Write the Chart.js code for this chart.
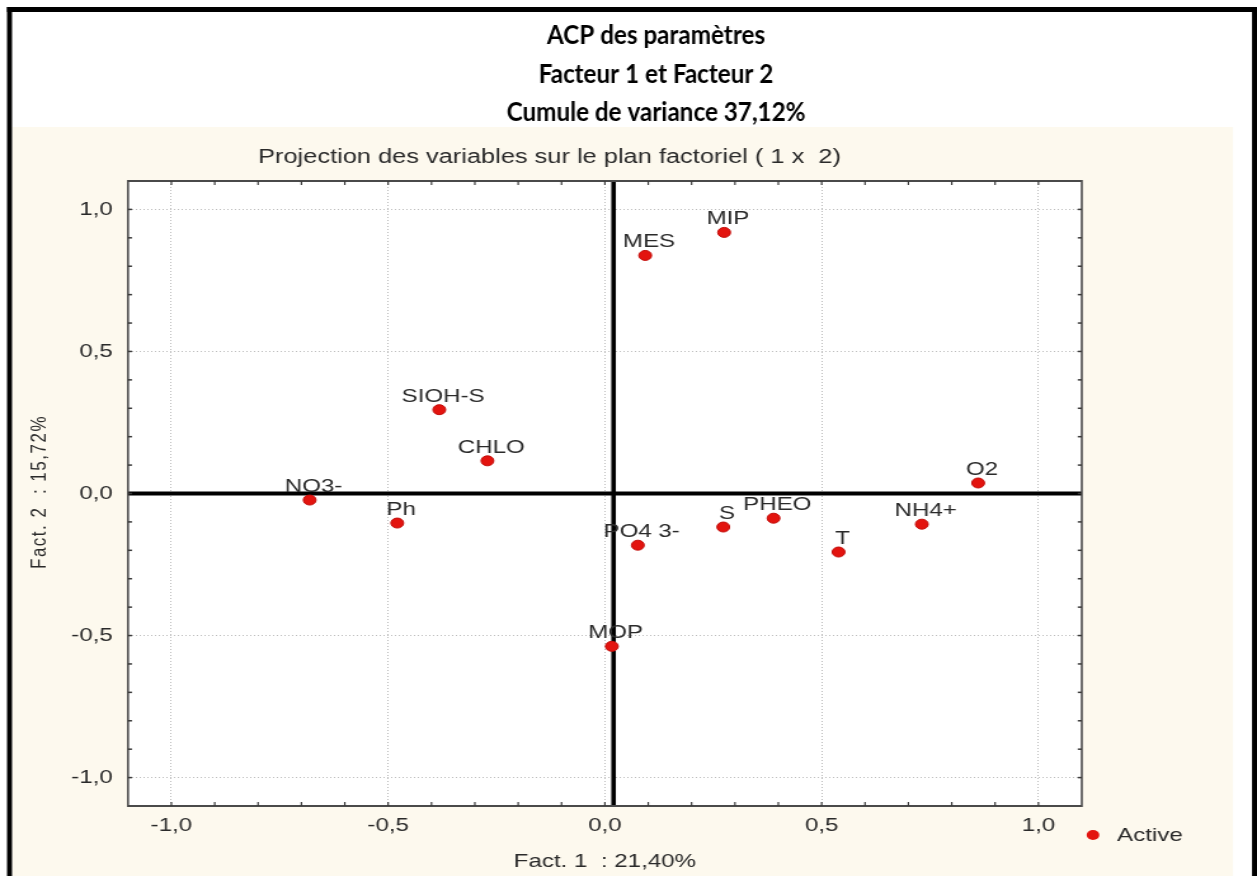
<!DOCTYPE html>
<html>
<head>
<meta charset="utf-8">
<script src="https://cdn.jsdelivr.net/npm/chart.js@4/dist/chart.umd.min.js"></script>
<style>
  html, body { margin: 0; padding: 0; background: #fff; overflow: hidden; }
  canvas { display: block; }
</style>
</head>
<body>
<!-- drawn on a narrower canvas and widened by CSS, like the exported figure -->
<canvas id="acp" width="990" height="876" style="width:1257px;height:876px"></canvas>
<script>
// variables projected on the factorial plane (1 x 2)
const variables = ['MES', 'MIP', 'SIOH-S', 'CHLO', 'NO3-', 'Ph', 'PO4 3-', 'S', 'PHEO', 'T', 'NH4+', 'O2', 'MOP'];
const fact1 = [0.093, 0.275, -0.382, -0.271, -0.681, -0.479, 0.076, 0.273, 0.389, 0.539, 0.731, 0.861, 0.016];
const fact2 = [0.838, 0.919, 0.295, 0.115, -0.023, -0.104, -0.182, -0.118, -0.087, -0.206, -0.108, 0.037, -0.538];

// labelled ticks on both axes
const axisTicks = [-1.0, -0.5, 0.0, 0.5, 1.0];
const axisRange = [-1.1, 1.1];
const minorStep = 0.1;
// where the two heavy origin lines cross
const originLine = { x: 0.02, y: 0.0 };

const titleLines = ['ACP des paramètres', 'Facteur 1 et Facteur 2', 'Cumule de variance 37,12%'];
const subtitle = 'Projection des variables sur le plan factoriel ( 1 x  2)';
const xTitle = 'Fact. 1  : 21,40%';
const yTitle = 'Fact. 2  : 15,72%';
const seriesName = 'Active';

// horizontal canvas units per displayed pixel
const SX = 990 / 1257;
const hx = v => v * SX;

const SMALL_FONT = '"Liberation Sans", Arial, Helvetica, sans-serif';
const TITLE_FONT = 'Lato, "Open Sans", "Liberation Sans", sans-serif';
const DOT = '#e3140f';
const TEXT = '#2a2a2a';

const isLabelled = v => axisTicks.some(t => Math.abs(t - v) < 1e-6);
const fmt = v => (Math.abs(v) < 1e-9 ? 0 : v).toFixed(1).replace('.', ',');

const decor = {
  id: 'decor',
  beforeDraw(chart) {
    const c = chart.ctx, W = chart.width, H = chart.height, a = chart.chartArea;
    c.save();
    c.fillStyle = '#ffffff';
    c.fillRect(0, 0, W, H);
    // cream panel behind the plot
    c.fillStyle = '#fdf9ee';
    c.fillRect(hx(12), 127, hx(1233) - hx(12), H - 127);
    c.fillStyle = '#ffffff';
    c.fillRect(a.left, a.top, a.right - a.left, a.bottom - a.top);
    // heavy outer frame
    c.fillStyle = '#000';
    c.fillRect(hx(7), 7, W - hx(7), 5);
    c.fillRect(hx(7), 7, hx(12) - hx(7), H - 7);
    c.fillRect(hx(1252), 7, W - hx(1252), H - 7);

    // three-line bold heading, set in one common condensed width
    c.fillStyle = '#000';
    c.textAlign = 'center';
    c.textBaseline = 'alphabetic';
    c.font = 'bold 26px ' + TITLE_FONT;
    const blockWidth = hx(244 + 223 + 285);
    const measured = titleLines.reduce((s, t) => s + c.measureText(t).width, 0);
    const k = blockWidth / measured;
    const ys = [44, 83, 121];
    titleLines.forEach((t, i) => {
      c.save();
      c.translate(hx(656), ys[i]);
      c.scale(k, 1);
      c.fillText(t, 0, 0);
      c.restore();
    });

    // subtitle
    c.fillStyle = TEXT;
    c.textAlign = 'left';
    c.textBaseline = 'middle';
    c.font = '20px ' + SMALL_FONT;
    c.fillText(subtitle, hx(258), 157);

    // vertical axis title
    c.save();
    c.translate(hx(40), 492);
    c.rotate(-Math.PI / 2);
    c.textAlign = 'center';
    c.font = '17px ' + SMALL_FONT;
    if ('letterSpacing' in c) c.letterSpacing = '1.5px';
    c.fillText(yTitle, 0, 0);
    c.restore();

    // legend
    const ds = chart.data.datasets[0];
    c.fillStyle = ds.backgroundColor;
    c.beginPath();
    c.arc(hx(1093), 835, 5, 0, Math.PI * 2);
    c.fill();
    c.fillStyle = TEXT;
    c.font = '19px ' + SMALL_FONT;
    c.textAlign = 'left';
    c.fillText(ds.label, hx(1117), 836);
    c.restore();
  },
  beforeDatasetsDraw(chart) {
    const c = chart.ctx, a = chart.chartArea;
    const xs = chart.scales.x, ys = chart.scales.y;
    c.save();
    // heavy origin lines
    c.fillStyle = '#000';
    const y0 = ys.getPixelForValue(originLine.y);
    c.fillRect(a.left, y0 - 2, a.right - a.left, 4);
    const x0 = xs.getPixelForValue(originLine.x);
    c.fillRect(x0 - 1.8, a.top, 3.6, a.bottom - a.top);

    // plot frame
    c.fillStyle = '#4a4a4a';
    const vw = hx(2);
    c.fillRect(a.left - vw / 2, a.top - 1, vw, a.bottom - a.top + 2);
    c.fillRect(a.right - vw / 2, a.top - 1, vw, a.bottom - a.top + 2);
    c.fillRect(a.left, a.top - 1, a.right - a.left, 2);
    c.fillRect(a.left, a.bottom - 1, a.right - a.left, 2);

    // inward tick marks on all four sides
    c.fillStyle = '#3a3a3a';
    const tl = 4;
    xs.ticks.forEach(t => {
      const p = xs.getPixelForValue(t.value);
      if (p <= a.left + 1 || p >= a.right - 1) return;
      c.fillRect(p - hx(1.5) / 2, a.bottom - tl, hx(1.5), tl);
      c.fillRect(p - hx(1.5) / 2, a.top, hx(1.5), tl);
    });
    ys.ticks.forEach(t => {
      const p = ys.getPixelForValue(t.value);
      if (p <= a.top + 1 || p >= a.bottom - 1) return;
      c.fillRect(a.left, p - 0.75, hx(tl), 1.5);
      c.fillRect(a.right - hx(tl), p - 0.75, hx(tl), 1.5);
    });
    c.restore();
  },
  afterDatasetsDraw(chart) {
    const c = chart.ctx;
    const meta = chart.getDatasetMeta(0);
    c.save();
    c.fillStyle = TEXT;
    c.font = '19px ' + SMALL_FONT;
    c.textAlign = 'center';
    c.textBaseline = 'alphabetic';
    meta.data.forEach((pt, i) => {
      c.fillText(variables[i], pt.x + 3, pt.y - 8);
    });
    c.restore();
  }
};

const points = fact1.map((x, i) => ({ x, y: fact2[i] }));

const axisCommon = {
  type: 'linear',
  min: axisRange[0],
  max: axisRange[1],
  ticks: {
    stepSize: minorStep,
    autoSkip: false,
    maxRotation: 0,
    minRotation: 0,
    color: TEXT,
    font: { family: SMALL_FONT, size: 19 },
    callback: v => (isLabelled(v) ? fmt(v) : '')
  },
  grid: {
    drawTicks: false,
    lineWidth: 1,
    color: ctx => (ctx.tick && isLabelled(ctx.tick.value) ? '#bdbdbd' : 'rgba(0,0,0,0)')
  },
  border: { display: false, dash: [1, 2] }
};

new Chart(document.getElementById('acp'), {
  type: 'scatter',
  data: {
    datasets: [{
      label: seriesName,
      data: points,
      backgroundColor: DOT,
      borderColor: '#c40d0a',
      borderWidth: 1,
      pointRadius: 5,
      pointHoverRadius: 5,
      pointStyle: 'circle'
    }]
  },
  options: {
    responsive: false,
    animation: false,
    devicePixelRatio: 1,
    events: [],
    layout: { padding: { left: 0, right: 138, top: 181, bottom: 0 } },
    plugins: {
      legend: { display: false },
      tooltip: { enabled: false },
      title: { display: false }
    },
    scales: {
      x: Object.assign({}, axisCommon, {
        ticks: Object.assign({}, axisCommon.ticks, { padding: 8 }),
        title: {
          display: true,
          text: xTitle,
          color: TEXT,
          font: { family: SMALL_FONT, size: 19 },
          padding: { top: 0, bottom: 3 }
        },
        afterFit: s => { s.height = 70; }
      }),
      y: Object.assign({}, axisCommon, {
        ticks: Object.assign({}, axisCommon.ticks, { padding: 12 }),
        afterFit: s => { s.width = hx(128); }
      })
    }
  },
  plugins: [decor]
});
</script>
</body>
</html>
